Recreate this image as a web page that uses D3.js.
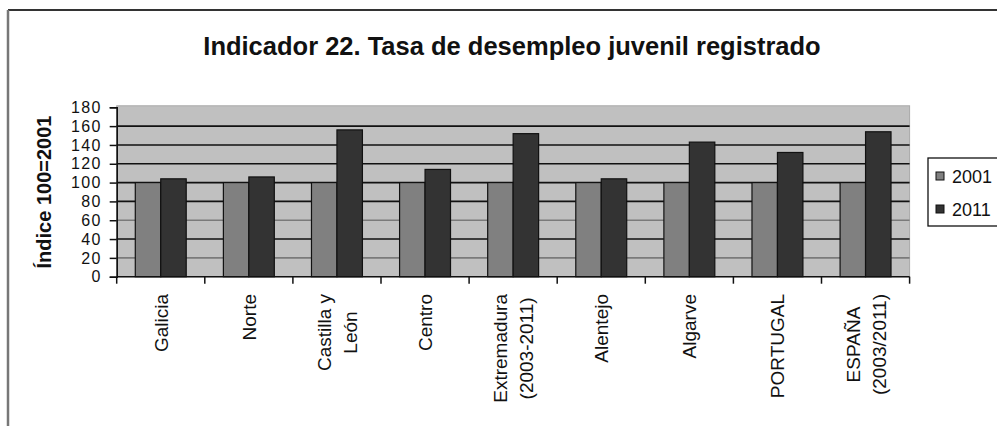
<!DOCTYPE html>
<html><head><meta charset="utf-8">
<script src="https://cdn.jsdelivr.net/npm/d3@7"></script>
<style>
html,body{margin:0;padding:0;background:#fff;}
svg{display:block;font-family:"Liberation Sans",Arial,sans-serif;}
</style></head>
<body>
<svg id="chart" width="997" height="426"></svg>
<script>
const categories = [["Galicia"],["Norte"],["Castilla y","León"],["Centro"],["Extremadura","(2003-2011)"],["Alentejo"],["Algarve"],["PORTUGAL"],["ESPAÑA","(2003/2011)"]];
const seriesNames = ["2001","2011"];
const values2001 = [100,100,100,100,100,100,100,100,100];
const values2011 = [104,106,156,114,152,104,143,132,154];
const yTicks = [0,20,40,60,80,100,120,140,160,180];
const lightGrid = [20,60];
const titleText = "Indicador 22. Tasa de desempleo juvenil registrado";
const yTitle = "Índice 100=2001";
const colors = ["#808080","#333333"];

const svg = d3.select("#chart");
const W = 997, H = 426;
const plot = {left:116.7, right:909.6, top:107.3, bottom:276.7};

// outer frame
svg.append("line").attr("x1",8).attr("x2",W).attr("y1",10).attr("y2",10).attr("stroke","#333").attr("stroke-width",2);
svg.append("line").attr("x1",8).attr("x2",8).attr("y1",10).attr("y2",H).attr("stroke","#777").attr("stroke-width",2.5);

// title
svg.append("text").attr("x",512).attr("y",55).attr("text-anchor","middle")
  .attr("font-weight","bold").attr("font-size",25.5).attr("fill","#111").text(titleText);

const keys = categories.map(c=>c.join(" "));
const x = d3.scaleBand().domain(keys).range([plot.left, plot.right]).paddingInner(0).paddingOuter(0);
const xs = d3.scaleBand().domain(seriesNames).range([0, x.bandwidth()]).paddingInner(0).paddingOuter(0.73);
const y = d3.scaleLinear().domain([0,180]).range([plot.bottom, plot.top]);

// plot background
svg.append("rect").attr("x",plot.left).attr("y",plot.top-1.5).attr("width",plot.right-plot.left).attr("height",plot.bottom-plot.top+1.5)
  .attr("fill","#c0c0c0").attr("stroke","#a8a8a8").attr("stroke-width",1);

// gridlines
svg.append("g").selectAll("line").data(yTicks.filter(t=>t>0 && t<180)).join("line")
  .attr("x1",plot.left).attr("x2",plot.right).attr("y1",d=>y(d)).attr("y2",d=>y(d))
  .attr("stroke",d=>lightGrid.includes(d)?"#7a7a7a":"#111").attr("stroke-width",1.6);

// bars
const data = keys.map((k,i)=>({k, vals:[values2001[i], values2011[i]]}));
const gb = svg.append("g").selectAll("g").data(data).join("g").attr("transform",d=>`translate(${x(d.k)},0)`);
gb.selectAll("rect").data(d=>d.vals.map((v,j)=>({s:seriesNames[j], v, j}))).join("rect")
  .attr("x",d=>xs(d.s)).attr("width",xs.bandwidth())
  .attr("y",d=>y(d.v)).attr("height",d=>y(0)-y(d.v))
  .attr("fill",d=>colors[d.j]).attr("stroke","#111").attr("stroke-width",1.2);

// y axis
const yAxis = d3.axisLeft(y).tickValues(yTicks).tickSize(7).tickPadding(8).tickFormat(d3.format("d"));
const gy = svg.append("g").attr("transform",`translate(${plot.left},0)`).call(yAxis);
gy.select(".domain").attr("stroke","#111").attr("stroke-width",1.6);
gy.selectAll(".tick line").attr("stroke","#111").attr("stroke-width",1.5);
gy.selectAll(".tick text").attr("font-size",16).attr("letter-spacing","1.3px").attr("fill","#111").attr("font-family","Liberation Sans, Arial, sans-serif");

// x axis: ticks at category boundaries
svg.append("line").attr("x1",plot.left).attr("x2",plot.right).attr("y1",plot.bottom).attr("y2",plot.bottom).attr("stroke","#111").attr("stroke-width",1.6);
const bounds = keys.map(k=>x(k)).concat([x(keys[keys.length-1])+x.bandwidth()]);
svg.append("g").selectAll("line").data(bounds).join("line")
  .attr("x1",d=>d).attr("x2",d=>d).attr("y1",plot.bottom).attr("y2",plot.bottom+7)
  .attr("stroke","#111").attr("stroke-width",1.5);

// category labels (rotated)
const lineH = 26, labelTop = 294;
const gl = svg.append("g").selectAll("g").data(categories).join("g")
  .attr("transform",(d,i)=>`translate(${x(keys[i])+x.bandwidth()/2},${labelTop}) rotate(-90)`);
gl.each(function(lines){
  const g = d3.select(this);
  const n = lines.length;
  const ts = lines.map((t,li)=>g.append("text").attr("font-size",19).attr("fill","#111")
      .attr("text-anchor","middle").attr("dy",((li-(n-1)/2)*lineH + 7)+"px").text(t));
  const maxLen = d3.max(ts, t=>t.node().getComputedTextLength());
  ts.forEach(t=>t.attr("x",-maxLen/2));
});

// y title
svg.append("text").attr("transform",`translate(51,${(plot.top+plot.bottom)/2}) rotate(-90)`)
  .attr("text-anchor","middle").attr("font-weight","bold").attr("font-size",20).attr("fill","#111").text(yTitle);

// legend
const lg = svg.append("g");
lg.append("rect").attr("x",928).attr("y",158).attr("width",80).attr("height",68).attr("fill","#fff").attr("stroke","#111").attr("stroke-width",1.3);
seriesNames.forEach((s,i)=>{
  const cy = 176 + i*33;
  lg.append("rect").attr("x",936).attr("y",cy-4).attr("width",8).attr("height",8).attr("fill",colors[i]).attr("stroke","#111").attr("stroke-width",1);
  lg.append("text").attr("x",952).attr("y",cy+6.5).attr("font-size",18).attr("fill","#111").text(s);
});
</script>
</body></html>
